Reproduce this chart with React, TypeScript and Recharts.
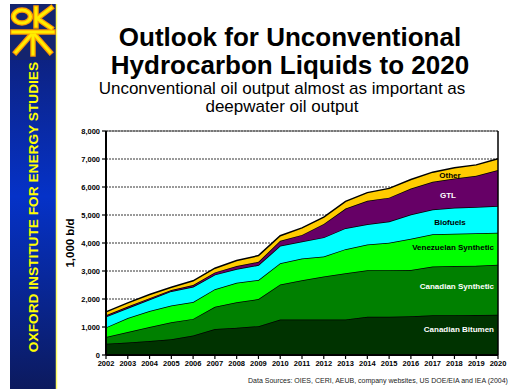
import React from 'react';
import { AreaChart, Area, XAxis, YAxis, CartesianGrid, ReferenceLine } from 'recharts';

const years = [2002, 2003, 2004, 2005, 2006, 2007, 2008, 2009, 2010, 2011, 2012, 2013, 2014, 2015, 2016, 2017, 2018, 2019, 2020];

// thousand barrels per day
const canadianBitumen = [400, 450, 500, 560, 700, 930, 970, 1030, 1270, 1270, 1270, 1270, 1370, 1370, 1380, 1420, 1420, 1430, 1440];
const canadianSynthetic = [240, 370, 500, 610, 590, 790, 910, 970, 1250, 1400, 1530, 1650, 1660, 1660, 1660, 1740, 1760, 1760, 1780];
const venezuelanSynthetic = [345, 500, 570, 600, 600, 630, 700, 680, 760, 780, 720, 860, 920, 980, 1110, 1150, 1150, 1160, 1150];
const biofuels = [385, 360, 410, 510, 550, 520, 490, 530, 620, 600, 680, 750, 720, 760, 870, 890, 930, 935, 950];
const gtl = [50, 50, 50, 40, 60, 80, 105, 120, 180, 240, 480, 700, 840, 850, 925, 985, 1045, 1115, 1285];
const other = [120, 130, 130, 100, 150, 150, 200, 220, 180, 250, 245, 255, 290, 330, 325, 345, 385, 390, 405];

const yTicks = [0, 1000, 2000, 3000, 4000, 5000, 6000, 7000, 8000];

const data = years.map((year, i) => ({
  year,
  bitumen: canadianBitumen[i],
  synthetic: canadianSynthetic[i],
  venezuelan: venezuelanSynthetic[i],
  biofuels: biofuels[i],
  gtl: gtl[i],
  other: other[i],
}));

const FONT = "Arial, 'Liberation Sans', Helvetica, sans-serif";

const series = [
  { key: 'bitumen', color: '#003300' },
  { key: 'synthetic', color: '#008000' },
  { key: 'venezuelan', color: '#00ff00' },
  { key: 'biofuels', color: '#00ffff' },
  { key: 'gtl', color: '#660066' },
  { key: 'other', color: '#ffcc00' },
];

const areaLabels = [
  { text: 'Other', x: 450, y: 176, color: '#000', align: 'center' },
  { text: 'GTL', x: 448, y: 196, color: '#fff', align: 'center' },
  { text: 'Biofuels', x: 450, y: 223, color: '#000', align: 'center' },
  { text: 'Venezuelan Synthetic', x: 494, y: 248, color: '#000', align: 'right' },
  { text: 'Canadian Synthetic', x: 494, y: 287, color: '#fff', align: 'right' },
  { text: 'Canadian Bitumen', x: 494, y: 330, color: '#fff', align: 'right' },
];

// logo strokes, drawn twice: orange outline then yellow core
const LogoShapes = ({ stroke, width }: { stroke: string; width: number }) => (
  <g stroke={stroke} strokeWidth={width} fill="none" strokeLinecap="square">
    <ellipse cx={22} cy={16.5} rx={8.5} ry={6.5} />
    <line x1={36} y1={8} x2={36} y2={26} />
    <line x1={38} y1={18} x2={51} y2={8} />
    <line x1={38} y1={19} x2={51} y2={28} />
    <line x1={13} y1={32} x2={53} y2={32} />
    <line x1={31} y1={35} x2={16} y2={52} />
    <line x1={35} y1={35} x2={50} y2={52} />
    <line x1={33} y1={35} x2={33} y2={54} />
  </g>
);

const Sidebar = () => (
  <svg width={60} height={389} style={{ position: 'absolute', left: 0, top: 0 }}>
    <defs>
      <linearGradient id="side" x1="0" y1="0" x2="0" y2="1">
        <stop offset="0%" stopColor="#101c66" />
        <stop offset="50%" stopColor="#0532c8" />
        <stop offset="100%" stopColor="#0c1a5e" />
      </linearGradient>
    </defs>
    <rect x={10} y={4} width={46} height={385} fill="url(#side)" />
    <rect x={10} y={4} width={46} height={56} fill="#14246e" />
    <line x1={56.5} y1={4} x2={56.5} y2={389} stroke="#ffff66" strokeWidth={1.5} />
    <LogoShapes stroke="#ff9900" width={5.5} />
    <LogoShapes stroke="#ffee00" width={3} />
    <text
      x={33}
      y={207}
      transform="rotate(-90 33 207)"
      textAnchor="middle"
      dominantBaseline="central"
      fill="#ffff00"
      fontFamily={FONT}
      fontWeight="bold"
      fontSize={13.7}
    >
      OXFORD INSTITUTE FOR ENERGY STUDIES
    </text>
  </svg>
);

export default function App() {
  const tickStyle = { fontSize: 7.5, fontWeight: 'bold' as const, fill: '#000', fontFamily: FONT };
  return (
    <div style={{ position: 'absolute', left: 0, top: 0, width: 515, height: 389, overflow: 'hidden', background: '#fff', fontFamily: FONT }}>
      <Sidebar />
      <div style={{ position: 'absolute', left: 90, top: 23, width: 400, textAlign: 'center', fontSize: 26, fontWeight: 'bold', lineHeight: '28px', color: '#000' }}>
        Outlook for Unconventional<br />Hydrocarbon Liquids to 2020
      </div>
      <div style={{ position: 'absolute', left: 82, top: 80, width: 400, textAlign: 'center', fontSize: 17, lineHeight: '18px', color: '#000' }}>
        Unconventional oil output almost as important as<br />deepwater oil output
      </div>

      <div style={{ position: 'absolute', left: 0, top: 0 }}>
        <AreaChart width={515} height={389} data={data} margin={{ top: 131, right: 17, bottom: 14, left: 66 }}>
          <CartesianGrid vertical={false} stroke="#000" strokeDasharray="2 1" strokeWidth={0.8} />
          <XAxis
            dataKey="year"
            interval={0}
            height={20}
            tick={tickStyle}
            tickSize={4}
            tickMargin={2}
            axisLine={{ stroke: '#000', strokeWidth: 2 }}
            tickLine={{ stroke: '#000', strokeWidth: 1.2 }}
          />
          <YAxis
            domain={[0, 8000]}
            ticks={yTicks}
            width={40}
            tick={tickStyle}
            tickSize={4}
            tickMargin={2}
            tickFormatter={(v: number) => v.toLocaleString('en-US')}
            axisLine={{ stroke: '#000', strokeWidth: 2 }}
            tickLine={{ stroke: '#000', strokeWidth: 1.2 }}
            label={{ value: '1,000 b/d', angle: -90, position: 'insideLeft', offset: 4, style: { fontSize: 11.5, fontWeight: 'bold', fill: '#000', fontFamily: FONT, textAnchor: 'middle' } }}
          />
          {series.map((s) => (
            <Area
              key={s.key}
              type="linear"
              dataKey={s.key}
              stackId="1"
              stroke="#000"
              strokeWidth={1.5}
              fill={s.color}
              fillOpacity={1}
              isAnimationActive={false}
            />
          ))}
          <ReferenceLine y={8000} stroke="#555" strokeWidth={1} />
          <ReferenceLine x={2020} stroke="#000" strokeWidth={1.5} />
        </AreaChart>
      </div>

      {areaLabels.map((l) => (
        <div
          key={l.text}
          style={{
            position: 'absolute',
            top: l.y - 5,
            left: l.align === 'right' ? l.x - 150 : l.x - 75,
            width: 150,
            textAlign: l.align as 'right' | 'center',
            fontSize: 8,
            lineHeight: '10px',
            fontWeight: 'bold',
            color: l.color,
            whiteSpace: 'nowrap',
          }}
        >
          {l.text}
        </div>
      ))}

      <div style={{ position: 'absolute', left: 248, top: 377, fontSize: 7, lineHeight: '8px', color: '#222', whiteSpace: 'nowrap' }}>
        Data Sources: OIES, CERI, AEUB, company websites, US DOE/EIA and IEA (2004)
      </div>
    </div>
  );
}
